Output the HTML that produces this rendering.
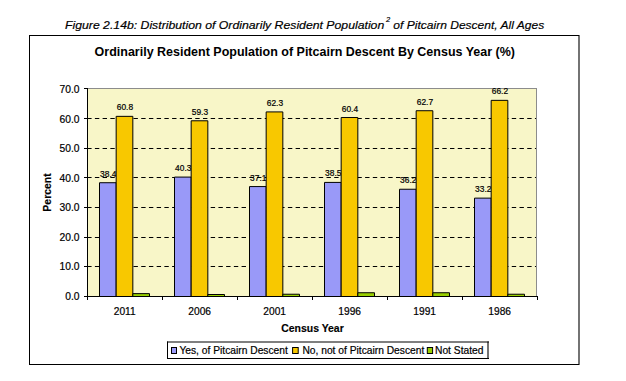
<!DOCTYPE html>
<html><head><meta charset="utf-8"><style>
html,body{margin:0;padding:0;background:#fff;width:626px;height:381px;overflow:hidden}
svg{position:absolute;left:0;top:0}
text{font-family:"Liberation Sans",sans-serif;fill:#000;stroke:#000;stroke-width:0.2px}
.yl{font-size:10.3px}
.xl{font-size:10.2px}
.dl{font-size:8.4px}
.ti{font-size:12.5px;font-weight:bold;stroke-width:0}
.ax{font-size:10.45px;font-weight:bold;stroke-width:0.15px}
.lg{font-size:10.25px}
.cap{font-size:12.2px;font-style:italic;stroke-width:0.2px}
</style></head><body>
<svg width="626" height="381" viewBox="0 0 626 381">
<defs><clipPath id="pc"><rect x="88" y="89" width="448" height="207"/></clipPath></defs>
<text transform="translate(65,29.1) scale(1,0.92)" class="cap" style="font-size:12.27px">Figure 2.14b: Distribution of Ordinarily Resident Population</text>
<text x="386" y="21.6" class="cap" style="font-size:7.5px">2</text>
<text transform="translate(390,29.1) scale(1,0.92)" class="cap" style="font-size:12.05px" xml:space="preserve"> of Pitcairn Descent, All Ages</text>
<rect x="29" y="35" width="550" height="330" fill="#fff"/>
<line x1="29" y1="35.5" x2="579" y2="35.5" stroke="#000" stroke-width="1"/>
<line x1="29.5" y1="35" x2="29.5" y2="365" stroke="#000" stroke-width="1"/>
<line x1="29" y1="364.5" x2="579" y2="364.5" stroke="#000" stroke-width="1"/>
<line x1="579" y1="35" x2="579" y2="365" stroke="#000" stroke-width="1.1"/>
<text transform="translate(304.8,55.8) scale(1,1.08)" text-anchor="middle" class="ti">Ordinarily Resident Population of Pitcairn Descent By Census Year (%)</text>
<rect x="88" y="89" width="448" height="207" fill="#F8F6C8"/>
<g clip-path="url(#pc)">
<line x1="87.18" y1="266.50" x2="536" y2="266.50" stroke="#000" stroke-width="1" stroke-dasharray="4.4 3.32"/>
<line x1="87.18" y1="237.50" x2="536" y2="237.50" stroke="#000" stroke-width="1" stroke-dasharray="4.4 3.32"/>
<line x1="87.18" y1="207.50" x2="536" y2="207.50" stroke="#000" stroke-width="1" stroke-dasharray="4.4 3.32"/>
<line x1="87.18" y1="177.50" x2="536" y2="177.50" stroke="#000" stroke-width="1" stroke-dasharray="4.4 3.32"/>
<line x1="87.18" y1="148.50" x2="536" y2="148.50" stroke="#000" stroke-width="1" stroke-dasharray="4.4 3.32"/>
<line x1="87.18" y1="118.50" x2="536" y2="118.50" stroke="#000" stroke-width="1" stroke-dasharray="4.4 3.32"/>
</g>
<line x1="87" y1="88.5" x2="537" y2="88.5" stroke="#8C8C8C" stroke-width="1"/>
<line x1="536.5" y1="88" x2="536.5" y2="296" stroke="#8C8C8C" stroke-width="1"/>
<line x1="84" y1="296.50" x2="88" y2="296.50" stroke="#000" stroke-width="1"/>
<text transform="translate(79.6,299.80) scale(1,1.12)" text-anchor="end" class="yl">0.0</text>
<line x1="84" y1="266.50" x2="88" y2="266.50" stroke="#000" stroke-width="1"/>
<text transform="translate(79.6,270.25) scale(1,1.12)" text-anchor="end" class="yl">10.0</text>
<line x1="84" y1="237.50" x2="88" y2="237.50" stroke="#000" stroke-width="1"/>
<text transform="translate(79.6,240.70) scale(1,1.12)" text-anchor="end" class="yl">20.0</text>
<line x1="84" y1="207.50" x2="88" y2="207.50" stroke="#000" stroke-width="1"/>
<text transform="translate(79.6,211.15) scale(1,1.12)" text-anchor="end" class="yl">30.0</text>
<line x1="84" y1="177.50" x2="88" y2="177.50" stroke="#000" stroke-width="1"/>
<text transform="translate(79.6,181.60) scale(1,1.12)" text-anchor="end" class="yl">40.0</text>
<line x1="84" y1="148.50" x2="88" y2="148.50" stroke="#000" stroke-width="1"/>
<text transform="translate(79.6,152.05) scale(1,1.12)" text-anchor="end" class="yl">50.0</text>
<line x1="84" y1="118.50" x2="88" y2="118.50" stroke="#000" stroke-width="1"/>
<text transform="translate(79.6,122.50) scale(1,1.12)" text-anchor="end" class="yl">60.0</text>
<line x1="84" y1="88.50" x2="88" y2="88.50" stroke="#000" stroke-width="1"/>
<text transform="translate(79.6,92.95) scale(1,1.12)" text-anchor="end" class="yl">70.0</text>
<line x1="87.50" y1="296" x2="87.50" y2="300" stroke="#000" stroke-width="1"/>
<line x1="162.50" y1="296" x2="162.50" y2="300" stroke="#000" stroke-width="1"/>
<line x1="237.50" y1="296" x2="237.50" y2="300" stroke="#000" stroke-width="1"/>
<line x1="312.50" y1="296" x2="312.50" y2="300" stroke="#000" stroke-width="1"/>
<line x1="387.50" y1="296" x2="387.50" y2="300" stroke="#000" stroke-width="1"/>
<line x1="462.50" y1="296" x2="462.50" y2="300" stroke="#000" stroke-width="1"/>
<line x1="537.50" y1="296" x2="537.50" y2="300" stroke="#000" stroke-width="1"/>
<path d="M99.50,296 V182.72 H116.17 V296" fill="#9999F8" stroke="#000" stroke-width="1"/>
<text x="108.23" y="176.72" text-anchor="middle" class="dl">38.4</text>
<path d="M116.17,296 V116.35 H132.83 V296" fill="#F8C800" stroke="#000" stroke-width="1"/>
<text x="124.90" y="110.35" text-anchor="middle" class="dl">60.8</text>
<path d="M132.83,296 V293.63 H149.50 V296" fill="#99D000" stroke="#000" stroke-width="1"/>
<text x="124.70" y="314.7" text-anchor="middle" class="xl">2011</text>
<path d="M174.50,296 V177.09 H191.17 V296" fill="#9999F8" stroke="#000" stroke-width="1"/>
<text x="183.23" y="171.09" text-anchor="middle" class="dl">40.3</text>
<path d="M191.17,296 V120.79 H207.83 V296" fill="#F8C800" stroke="#000" stroke-width="1"/>
<text x="199.90" y="114.79" text-anchor="middle" class="dl">59.3</text>
<path d="M207.83,296 V294.50 H224.50 V296" fill="#99D000" stroke="#000" stroke-width="1"/>
<text x="199.70" y="314.7" text-anchor="middle" class="xl">2006</text>
<path d="M249.50,296 V186.57 H266.17 V296" fill="#9999F8" stroke="#000" stroke-width="1"/>
<text x="258.23" y="180.57" text-anchor="middle" class="dl">37.1</text>
<path d="M266.17,296 V111.91 H282.83 V296" fill="#F8C800" stroke="#000" stroke-width="1"/>
<text x="274.90" y="105.91" text-anchor="middle" class="dl">62.3</text>
<path d="M282.83,296 V294.22 H299.50 V296" fill="#99D000" stroke="#000" stroke-width="1"/>
<text x="274.70" y="314.7" text-anchor="middle" class="xl">2001</text>
<path d="M324.50,296 V182.42 H341.17 V296" fill="#9999F8" stroke="#000" stroke-width="1"/>
<text x="333.23" y="176.42" text-anchor="middle" class="dl">38.5</text>
<path d="M341.17,296 V117.53 H357.83 V296" fill="#F8C800" stroke="#000" stroke-width="1"/>
<text x="349.90" y="111.53" text-anchor="middle" class="dl">60.4</text>
<path d="M357.83,296 V292.74 H374.50 V296" fill="#99D000" stroke="#000" stroke-width="1"/>
<text x="349.70" y="314.7" text-anchor="middle" class="xl">1996</text>
<path d="M399.50,296 V189.24 H416.17 V296" fill="#9999F8" stroke="#000" stroke-width="1"/>
<text x="408.23" y="183.24" text-anchor="middle" class="dl">36.2</text>
<path d="M416.17,296 V110.72 H432.83 V296" fill="#F8C800" stroke="#000" stroke-width="1"/>
<text x="424.90" y="104.72" text-anchor="middle" class="dl">62.7</text>
<path d="M432.83,296 V292.74 H449.50 V296" fill="#99D000" stroke="#000" stroke-width="1"/>
<text x="424.70" y="314.7" text-anchor="middle" class="xl">1991</text>
<path d="M474.50,296 V198.13 H491.17 V296" fill="#9999F8" stroke="#000" stroke-width="1"/>
<text x="483.23" y="192.13" text-anchor="middle" class="dl">33.2</text>
<path d="M491.17,296 V100.35 H507.83 V296" fill="#F8C800" stroke="#000" stroke-width="1"/>
<text x="499.90" y="94.35" text-anchor="middle" class="dl">66.2</text>
<path d="M507.83,296 V294.22 H524.50 V296" fill="#99D000" stroke="#000" stroke-width="1"/>
<text x="499.70" y="314.7" text-anchor="middle" class="xl">1986</text>
<line x1="87.5" y1="88" x2="87.5" y2="297" stroke="#000" stroke-width="1"/>
<line x1="84" y1="296.5" x2="537" y2="296.5" stroke="#000" stroke-width="1"/>
<text x="312.5" y="332.4" text-anchor="middle" class="ax">Census Year</text>
<text transform="translate(51,192.5) rotate(-90)" x="0" y="0" text-anchor="middle" class="ax">Percent</text>
<rect x="167" y="341" width="322" height="18" fill="#fff"/>
<line x1="167" y1="342" x2="489" y2="342" stroke="#000" stroke-width="1.1"/>
<line x1="167.5" y1="341.5" x2="167.5" y2="359" stroke="#000" stroke-width="1"/>
<line x1="167" y1="358.5" x2="489" y2="358.5" stroke="#000" stroke-width="1"/>
<line x1="488" y1="341.5" x2="488" y2="359" stroke="#000" stroke-width="1.1"/>
<rect x="171.5" y="347.5" width="5" height="6" fill="#9999F8" stroke="#000" stroke-width="1"/>
<text x="179.4" y="353.7" class="lg">Yes, of Pitcairn Descent</text>
<rect x="292.6" y="347.5" width="5.6" height="6" fill="#F8C800" stroke="#000" stroke-width="1"/>
<text x="302.4" y="353.7" class="lg">No, not of Pitcairn Descent</text>
<rect x="427.3" y="347.5" width="5.3" height="6" fill="#99D000" stroke="#000" stroke-width="1"/>
<text x="435" y="353.7" class="lg">Not Stated</text>
</svg>
</body></html>
